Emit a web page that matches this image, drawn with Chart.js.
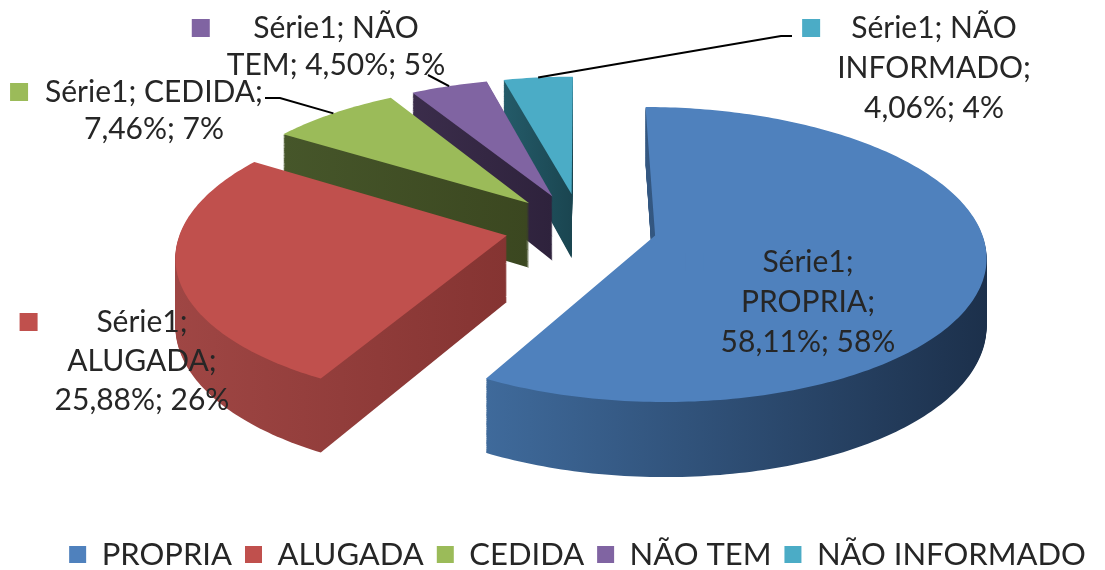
<!DOCTYPE html>
<html>
<head>
<meta charset="utf-8">
<script src="https://cdn.jsdelivr.net/npm/chart.js@4.4.1/dist/chart.umd.min.js"></script>
<style>
  html, body { margin: 0; padding: 0; background: #fff; }
  #chart { display: block; }
</style>
</head>
<body>
<canvas id="chart" width="1105" height="570"></canvas>
<script>
const categories = ['PROPRIA', 'ALUGADA', 'CEDIDA', 'NÃO TEM', 'NÃO INFORMADO'];
const seriesName = 'Série1';
const percentValues = [58.11, 25.88, 7.46, 4.50, 4.06];

const topColors = ['#4F81BD', '#C0504D', '#9BBB59', '#8064A2', '#4BACC6'];
// side faces, light -> dark from left to right
const sideColors = [
  ['#3f6a9b', '#1c304b'],
  ['#9f4644', '#853432'],
  ['#46562a', '#3b4720'],
  ['#3b2d4b', '#2e223c'],
  ['#245b69', '#1a4550']
];

// 3d look: centre, vertical squash, explosion, thickness, perspective
const pie = { cx: 581, cy: 227, rx: 325, ky: 0.447, explode: 76, depth: 66, persp: 2500 };

// data label boxes: centre x, first line y, line step, wrap width
const labelBoxes = [
  { cx: 808, y: 262, step: 40, wrap: 200 },
  { cx: 142, y: 322, step: 39, wrap: 200 },
  { cx: 154, y: 92, step: 37, wrap: 230 },
  { cx: 336, y: 28, step: 37, wrap: 230 },
  { cx: 934, y: 28, step: 40, wrap: 200 }
];
const leaderFrom = [null, null, [[265, 98], [280, 98]], [[428, 75]], [[792, 36], [781, 36]]];

function geometry(chart) {
  const meta = chart.getDatasetMeta(0);
  return meta.data.map((el, i) => {
    const p = el.getProps(['startAngle', 'endAngle'], true);
    const mid = (p.startAngle + p.endAngle) / 2;
    const ox = pie.explode * Math.cos(mid), oz = pie.explode * Math.sin(mid);
    const proj = (X, Z) => {
      const s = 1 + Z / pie.persp;
      return [pie.cx + X * s, pie.cy + Z * pie.ky * s, s];
    };
    const pts = [proj(ox, oz)];
    const n = Math.max(2, Math.ceil((p.endAngle - p.startAngle) / (Math.PI / 180)));
    for (let k = 0; k <= n; k++) {
      const a = p.startAngle + (p.endAngle - p.startAngle) * k / n;
      pts.push(proj(ox + pie.rx * Math.cos(a), oz + pie.rx * Math.sin(a)));
    }
    const rim = proj(ox + pie.rx * Math.cos(mid), oz + pie.rx * Math.sin(mid));
    return { i, pts, oz, rim, color: el.options.backgroundColor };
  });
}

function wrapText(ctx, text, maxW) {
  const words = text.split(' ');
  const lines = [];
  let cur = '';
  words.forEach(w => {
    const t = cur ? cur + ' ' + w : w;
    if (cur && ctx.measureText(t).width > maxW) { lines.push(cur); cur = w; } else cur = t;
  });
  if (cur) lines.push(cur);
  return lines;
}

const fmt = v => v.toFixed(2).replace('.', ',');

const pie3d = {
  id: 'pie3d',
  beforeDatasetsDraw(chart) {
    const ctx = chart.ctx;
    const slices = geometry(chart).sort((a, b) => a.oz - b.oz);
    const path = (pts, d) => {
      ctx.beginPath();
      pts.forEach(([x, y, s], k) => k ? ctx.lineTo(x, y + d * s) : ctx.moveTo(x, y + d * s));
      ctx.closePath();
    };
    ctx.save();
    const fills = slices.map(sl => {
      const xs = sl.pts.map(q => q[0]);
      const g = ctx.createLinearGradient(Math.min(...xs), 0, Math.max(...xs), 0);
      g.addColorStop(0, sideColors[sl.i][0]);
      g.addColorStop(1, sideColors[sl.i][1]);
      return g;
    });
    for (let d = pie.depth; d >= 1; d--) {
      slices.forEach((sl, j) => { path(sl.pts, d); ctx.fillStyle = fills[j]; ctx.fill(); });
    }
    slices.forEach(sl => { path(sl.pts, 0); ctx.fillStyle = sl.color; ctx.fill(); });
    ctx.restore();
    return false;
  },
  afterDraw(chart) {
    const ctx = chart.ctx;
    const geo = geometry(chart);
    ctx.save();
    ctx.font = '30px Lato';
    ctx.textAlign = 'center';
    ctx.textBaseline = 'middle';
    categories.forEach((cat, i) => {
      const v = percentValues[i];
      const text = seriesName + '; ' + cat + '; ' + fmt(v) + '%; ' + Math.round(v) + '%';
      const box = labelBoxes[i];
      const lines = wrapText(ctx, text, box.wrap);
      const w = Math.max(...lines.map(l => ctx.measureText(l).width));
      ctx.fillStyle = topColors[i];
      ctx.fillRect(box.cx - w / 2 - 35, box.y - 9, 18, 18);
      ctx.fillStyle = '#262626';
      lines.forEach((l, k) => ctx.fillText(l, box.cx, box.y + k * box.step));
      if (leaderFrom[i]) {
        ctx.beginPath();
        leaderFrom[i].forEach(([x, y], k) => k ? ctx.lineTo(x, y) : ctx.moveTo(x, y));
        ctx.lineTo(geo[i].rim[0], geo[i].rim[1]);
        ctx.strokeStyle = '#000';
        ctx.lineWidth = 2;
        ctx.stroke();
      }
    });
    ctx.restore();
  }
};

new Chart(document.getElementById('chart'), {
  type: 'pie',
  data: {
    labels: categories,
    datasets: [{
      label: seriesName,
      data: percentValues,
      backgroundColor: topColors,
      borderWidth: 0
    }]
  },
  options: {
    responsive: false,
    animation: false,
    devicePixelRatio: 1,
    events: [],
    layout: { padding: { left: 50, right: 0, top: 0, bottom: -10 } },
    plugins: {
      tooltip: { enabled: false },
      legend: {
        position: 'bottom',
        labels: {
          font: { family: 'Lato', size: 31 },
          color: '#262626',
          boxWidth: 17,
          boxHeight: 17,
          padding: 13
        }
      }
    }
  },
  plugins: [pie3d]
});
</script>
</body>
</html>
